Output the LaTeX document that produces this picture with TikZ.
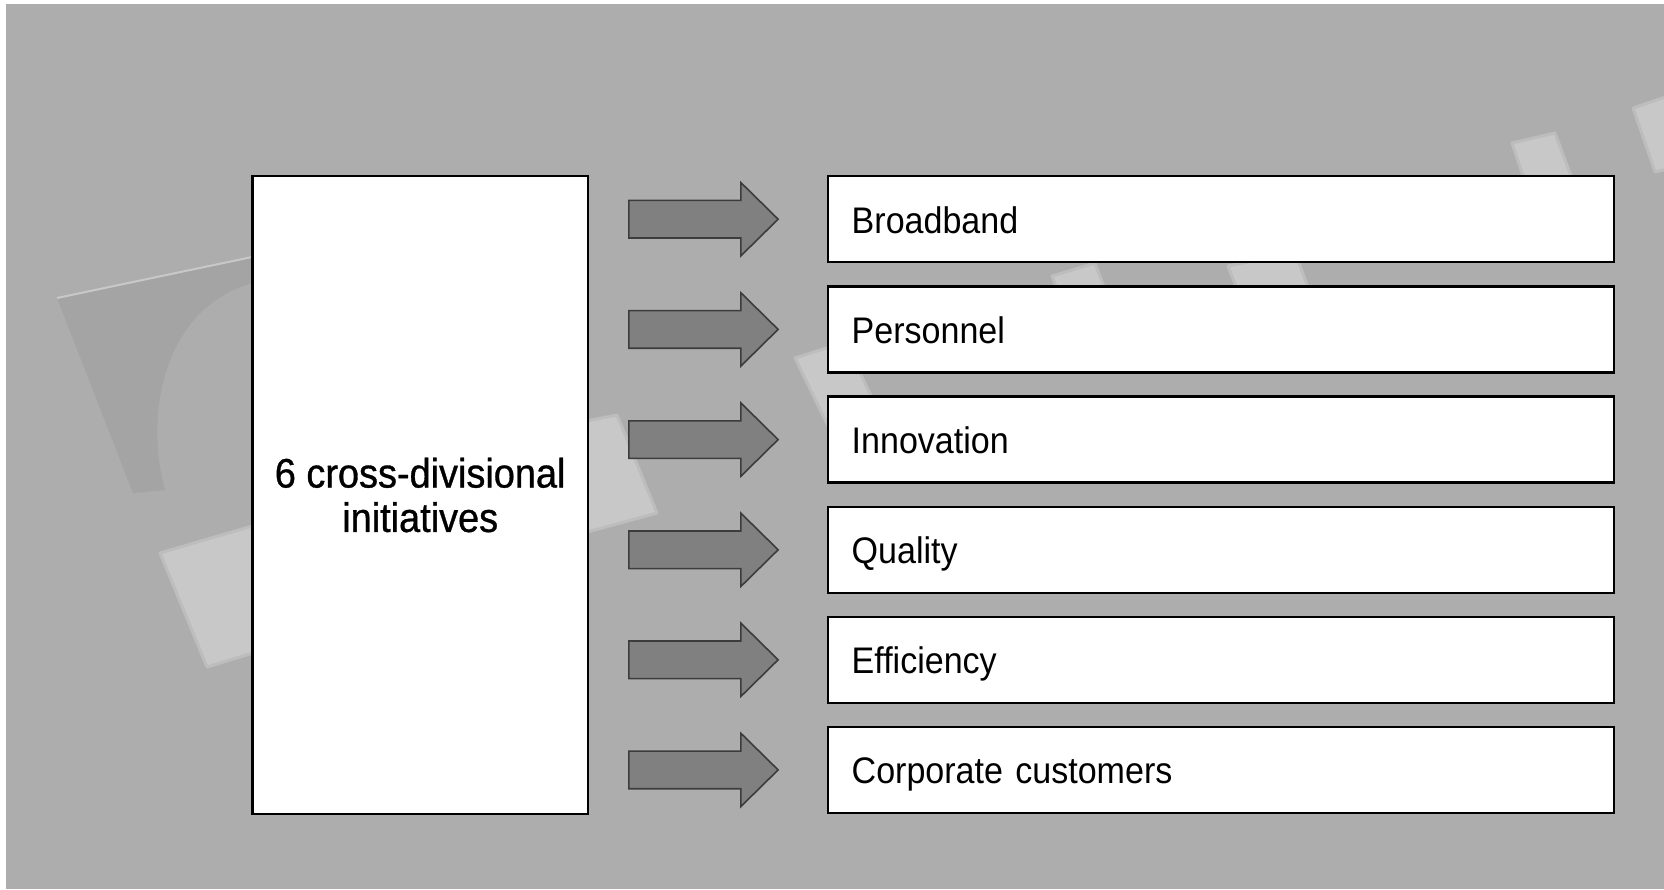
\documentclass[tikz,border=0pt]{standalone}
\usepackage{fontspec}
\setmainfont{Liberation Sans}[FakeStretch=0.92]
\newfontfamily\headfont{Liberation Sans}[FakeStretch=0.92,FakeBold=0.8]
\definecolor{bgc}{RGB}{173,173,173}
\definecolor{bgdark}{RGB}{164,164,164}
\definecolor{bglight}{RGB}{200,200,200}
\definecolor{arrfill}{RGB}{128,128,128}
\definecolor{arrline}{RGB}{60,60,60}
\tikzset{
  bgshape/.style={fill=bglight, draw=bglight!60!bgc, line width=1.5pt, line join=round},
  mainbox/.style={draw=black, line width=1.2pt, fill=white, rectangle,
    minimum width=167.65pt, minimum height=319pt, inner sep=0pt, align=center,
    font=\headfont\fontsize{20.6}{22.2}\selectfont},
  itembox/.style={draw=black, line width=1.2pt, fill=white, rectangle,
    minimum height=43pt, inner xsep=12pt, inner ysep=0pt,
    text width=369.2pt, align=left, text height=14pt, text depth=0pt,
    font=\fontsize{18.5}{20}\selectfont},
  blockarrow/.style={fill=arrfill, draw=arrline, line width=0.8pt, line join=miter}
}
\begin{document}
\begin{tikzpicture}[x=0.5pt,y=-0.5pt]
\useasboundingbox (0,0) rectangle (1664,889);
\fill[white] (0,0) rectangle (1664,889);
\fill[bgc] (6,4) rectangle (1664,889);
% faint background photo shapes
\fill[bgdark] (57,298) -- (300,247) -- (300,276) -- (252,283)
  .. controls (160,310) and (145,420) .. (165,490) -- (133,493) -- cycle;
\draw[bglight, line width=1pt] (57,298) -- (252,257);
\filldraw[bgshape] (160,553) -- (300,512) -- (345,625) -- (207,667) -- cycle;
\filldraw[bgshape] (540,430) -- (617,415) -- (657,513) -- (540,545) -- cycle;
\filldraw[bgshape] (795,358) -- (845,342) -- (880,414) -- (830,430) -- cycle;
\filldraw[bgshape] (1052,276) -- (1095,263) -- (1120,330) -- (1077,344) -- cycle;
\filldraw[bgshape] (1228,266) -- (1295,252) -- (1320,320) -- (1255,336) -- cycle;
\filldraw[bgshape] (1512,143) -- (1555,133) -- (1580,200) -- (1535,212) -- cycle;
\filldraw[bgshape] (1633,108) -- (1680,92) -- (1705,160) -- (1655,172) -- cycle;
% main box
\node[mainbox] (L) at (420.2,495) {6 cross-divisional\\initiatives};
% item boxes
\node[itembox] (b1) at (1220.9,219.2) {Broadband};
\node[itembox] (b2) at (1220.9,329.4) {Personnel};
\node[itembox] (b3) at (1220.9,439.6) {Innovation};
\node[itembox] (b4) at (1220.9,549.8) {Quality};
\node[itembox] (b5) at (1220.9,659.8) {Efficiency};
\node[itembox] (b6) at (1220.9,769.9) {Corporate customers};
% block arrows
\foreach \i in {1,...,6}{
  \path (b\i.west) ++(-48.4,0) coordinate (t\i);
  \draw[blockarrow] (t\i) -- ++(-37.3,-36.7) -- ++(0,17.9) -- ++(-112,0)
    -- ++(0,37.6) -- ++(112,0) -- ++(0,17.9) -- cycle;
}
\end{tikzpicture}
\end{document}
